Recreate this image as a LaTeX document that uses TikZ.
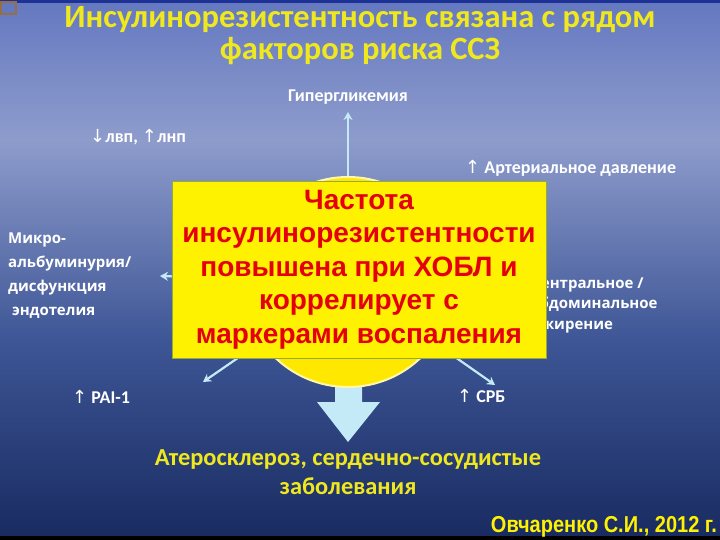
\documentclass[tikz,border=0pt]{standalone}
\usepackage{fontspec}
\newfontfamily\carlito{Carlito}
\newfontfamily\libsans{Liberation Sans}
\newfontfamily\opensans{Open Sans}
\newfontfamily\dejavu{DejaVu Sans}
\newcommand{\irup}{{\dejavu\mdseries ↑}}
\newcommand{\irdown}{{\dejavu\mdseries ↓}}
\definecolor{bgtop}{RGB}{100,120,192}
\definecolor{bglight}{RGB}{142,156,204}
\definecolor{bgmid}{RGB}{62,86,150}
\definecolor{bgbot}{RGB}{24,42,96}
\definecolor{bgbar}{RGB}{30,50,150}
\definecolor{iconrim}{RGB}{150,110,70}
\definecolor{boxrim}{RGB}{150,170,60}
\definecolor{titleyellow}{RGB}{240,232,30}
\definecolor{rayblue}{RGB}{196,234,248}
\definecolor{boxred}{RGB}{228,0,12}
\definecolor{suncore}{RGB}{255,232,0}
\definecolor{sunrim}{RGB}{255,248,170}
\usetikzlibrary{arrows.meta}
\begin{document}
\begin{tikzpicture}[x=1pt,y=-1pt,
  title/.style={text=titleyellow,font=\carlito\bfseries\fontsize{32.5}{32}\selectfont,align=center},
  factor/.style={text=white,font=\carlito\bfseries\fontsize{18}{20}\selectfont,inner sep=0pt},
  wide/.style={text=white,font=\opensans\bfseries\fontsize{15}{24}\selectfont,align=left,inner sep=0pt},
  ray/.style={rayblue,line width=2.2pt,-{Stealth[length=8pt,width=9pt]}},
  irbox/.style={fill=yellow,draw=boxrim,line width=0.6pt,minimum width=374pt,minimum height=177pt,text=boxred,align=center,font=\libsans\bfseries\fontsize{28}{33.5}\selectfont,inner sep=0pt}]
\useasboundingbox (0,0) rectangle (720,540);
\shade[top color=bgtop,bottom color=bglight] (0,0) rectangle (720,140);
\shade[top color=bglight,bottom color=bgbot,middle color=bgmid] (0,140) rectangle (720,540);
\fill[bgbar] (0,0) rectangle (720,3);
\fill[black] (0,536) rectangle (720,540);
\draw[iconrim,line width=1.5pt,fill=bgtop] (1,2) rectangle (16,14);

\node[title] (title) at (360,36) {Инсулинорезистентность связана с рядом\\факторов риска ССЗ};

\coordinate (c) at (348,282);
\coordinate (tipup) at (348,112);
\coordinate (tipleft) at (160,276);
\coordinate (tipll) at (203,382);
\coordinate (tiplr) at (495,385);

\node[factor] (hyper) at (348,97) {Гипергликемия};
\node[factor,anchor=west] (lipid) at (90,137) {\irdown лвп, \irup лнп};
\node[factor,anchor=west] (pressure) at (465,168) {\irup{} Артериальное давление};
\node[wide,anchor=north west] (micro) at (8,233) {Микро-\\альбуминурия/\\дисфункция\\\ эндотелия};
\node[wide,anchor=west,font=\opensans\bfseries\fontsize{15}{20.5}\selectfont] (obesity) at (529,305) {Центральное /\\Абдоминальное\\Ожирение};
\node[factor,anchor=west] (pai) at (72,397) {\irup{} PAI-1};
\node[factor,anchor=west] (crp) at (457,396) {\irup{} СРБ};

\draw[ray] (c) -- (tipup);
\draw[ray] (c) -- (tipleft);
\draw[ray] (c) -- (tipll);
\draw[ray] (c) -- (tiplr);

\fill[rayblue] (335,360) -- (362,360) -- (362,402) -- (380,402) -- (348,442) -- (317,402) -- (335,402) -- cycle;
\draw[sunrim,line width=2pt,fill=suncore] (c) circle (105);

\node[irbox] (ir) at (359,269.5) {Частота\\инсулинорезистентности\\повышена при ХОБЛ и\\коррелирует с\\маркерами воспаления};

\node[title,font=\carlito\bfseries\fontsize{24.4}{29}\selectfont] (outcome) at (348,472) {Атеросклероз, сердечно-сосудистые\\заболевания};
\node[text=yellow,font=\libsans\bfseries\fontsize{23}{24}\selectfont,anchor=east,inner sep=0pt,xscale=0.87] (cite) at (717,527) {Овчаренко С.И., 2012 г.};
\end{tikzpicture}
\end{document}
